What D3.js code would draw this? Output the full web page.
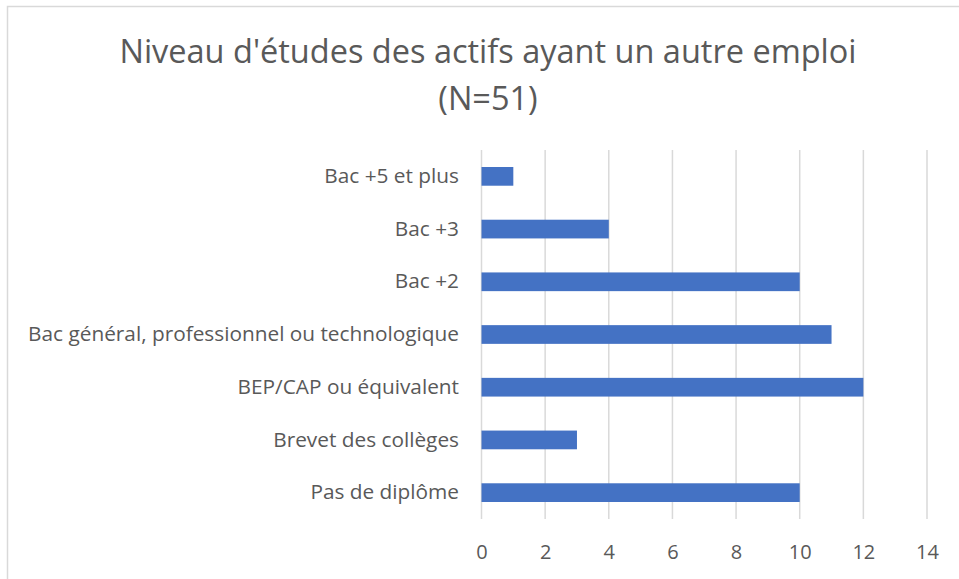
<!DOCTYPE html>
<html>
<head>
<meta charset="utf-8">
<script src="https://cdn.jsdelivr.net/npm/d3@7"></script>
<style>
  body { margin: 0; background: #fff; }
  svg { display: block; font-family: "Open Sans", sans-serif; }
</style>
</head>
<body>
<svg id="chart" width="959" height="579"></svg>
<script>
var categories = ['Bac +5 et plus', 'Bac +3', 'Bac +2', 'Bac général, professionnel ou technologique',
  'BEP/CAP ou équivalent', 'Brevet des collèges', 'Pas de diplôme'];
var values = [1, 4, 10, 11, 12, 3, 10];
var ticks = [0, 2, 4, 6, 8, 10, 12, 14];
var titleLines = ["Niveau d'études des actifs ayant un autre emploi", '(N=51)'];

var svg = d3.select('#chart');
var textColor = '#595959';

// chart border
svg.append('rect')
  .attr('x', 7.5).attr('y', 6.5)
  .attr('width', 960).attr('height', 580)
  .attr('fill', 'none')
  .attr('stroke', '#d9d9d9')
  .attr('stroke-width', 1.5);

// title
svg.append('text')
  .attr('x', 488).attr('y', 63)
  .attr('text-anchor', 'middle')
  .attr('fill', textColor)
  .style('font-size', '32.5px')
  .selectAll('tspan')
  .data(titleLines)
  .enter().append('tspan')
  .attr('x', 488)
  .attr('dy', function(d, i) { return i === 0 ? 0 : 47; })
  .text(function(d) { return d; });

var x = d3.scaleLinear().domain([0, 14]).range([481.5, 927]);
var y = d3.scaleBand().domain(categories).range([150, 519]).paddingInner(0.645).paddingOuter(0.3225);

// gridlines
svg.append('g')
  .selectAll('line')
  .data(ticks)
  .enter().append('line')
  .attr('x1', function(d) { return x(d); })
  .attr('x2', function(d) { return x(d); })
  .attr('y1', 150).attr('y2', 519)
  .attr('stroke', '#d9d9d9')
  .attr('stroke-width', 1.5);

// bars
svg.append('g')
  .selectAll('rect')
  .data(values)
  .enter().append('rect')
  .attr('x', x(0))
  .attr('y', function(d, i) { return y(categories[i]); })
  .attr('width', function(d) { return x(d) - x(0); })
  .attr('height', y.bandwidth())
  .attr('fill', '#4472c4');

// x axis labels
var xAxis = d3.axisBottom(x).tickValues(ticks).tickSize(0).tickPadding(0);
var gx = svg.append('g').attr('transform', 'translate(0,' + 559 + ')').call(xAxis);
gx.select('.domain').remove();
gx.selectAll('text')
  .attr('fill', textColor)
  .attr('dy', 0)
  .style('font-size', '20px')
  .style('font-family', '"Open Sans", sans-serif');

// y axis labels
var yAxis = d3.axisLeft(y).tickSize(0).tickPadding(0);
var gy = svg.append('g').attr('transform', 'translate(459,0)').call(yAxis);
gy.select('.domain').remove();
gy.selectAll('text')
  .attr('fill', textColor)
  .style('font-size', '20.8px')
  .style('font-family', '"Open Sans", sans-serif');
</script>
</body>
</html>
